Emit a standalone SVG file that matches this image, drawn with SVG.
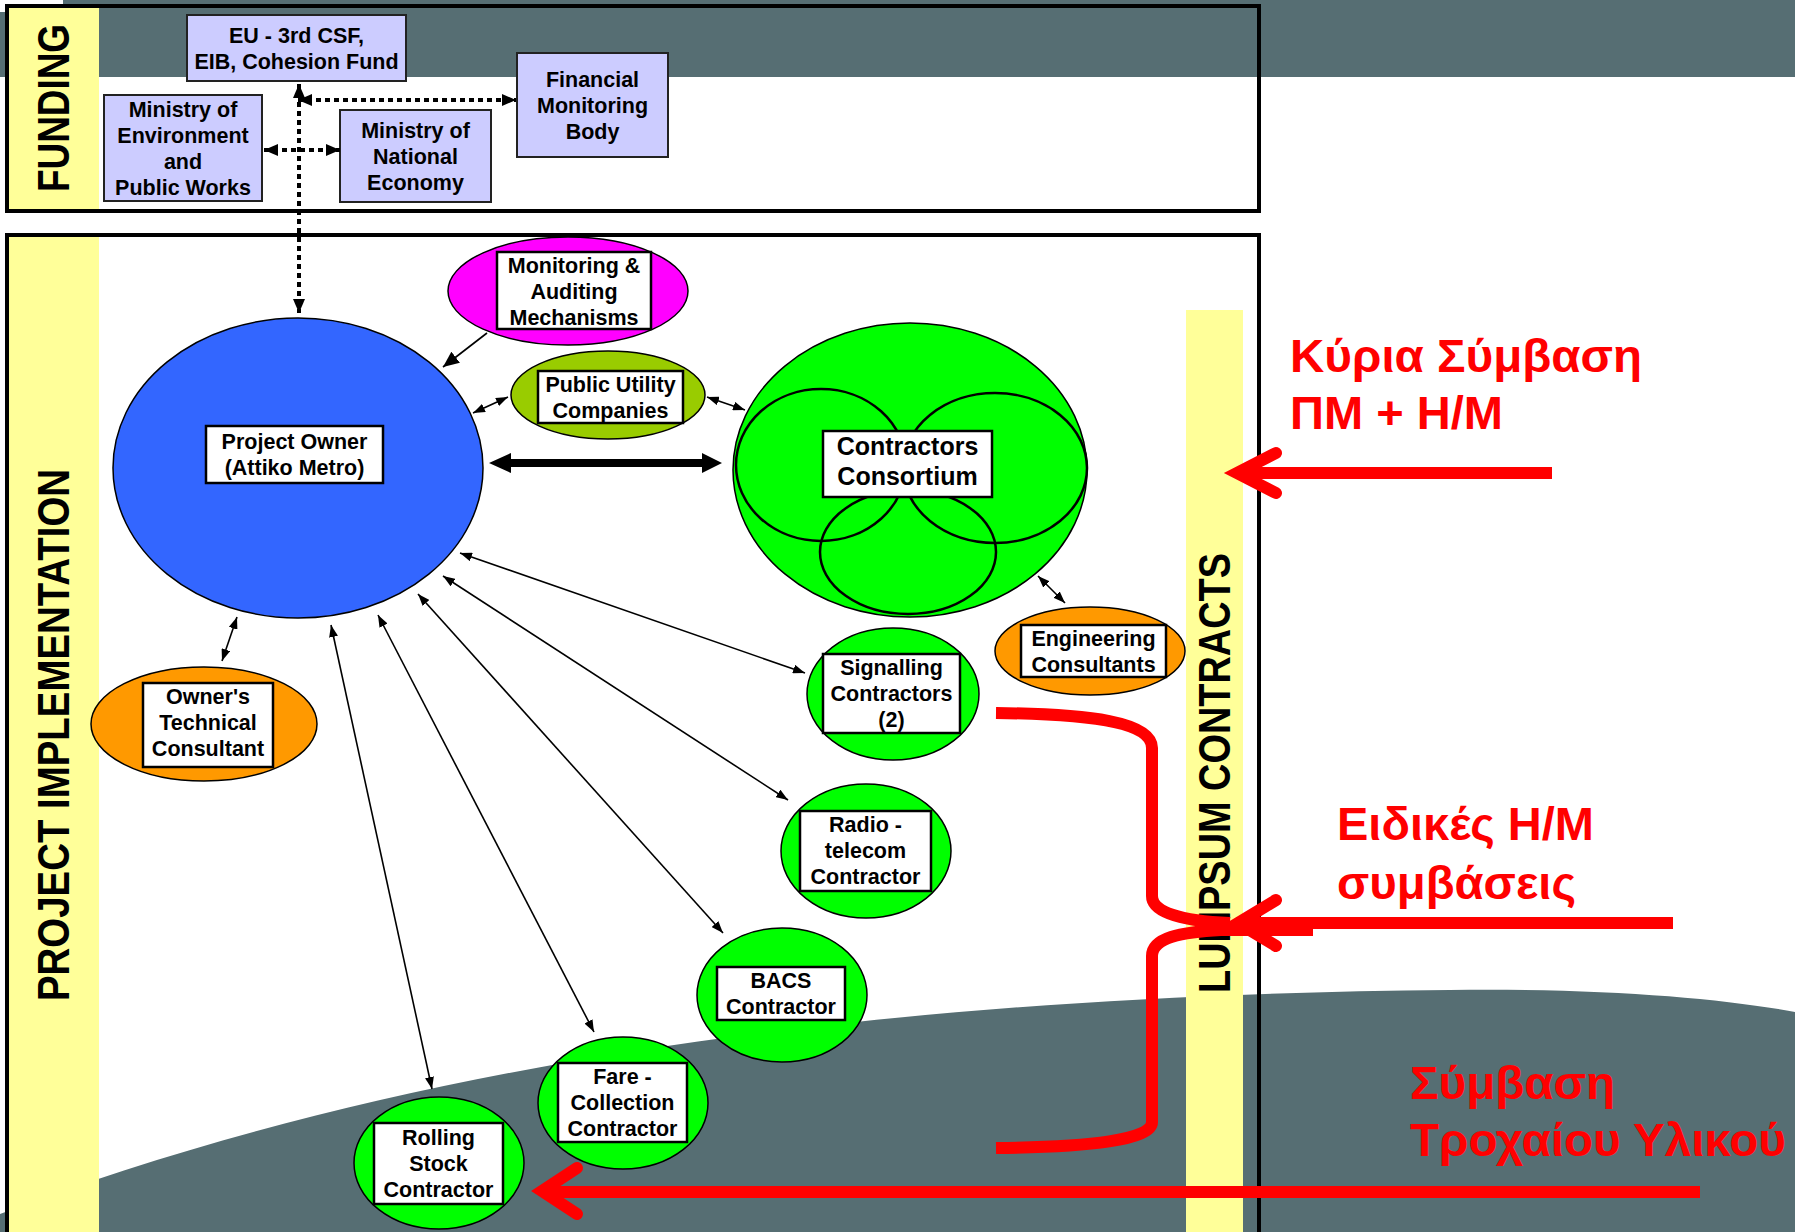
<svg xmlns="http://www.w3.org/2000/svg" width="1795" height="1232" viewBox="0 0 1795 1232">
  <defs>
    <style>
      .lbl { font-family: "Liberation Sans", Arial, sans-serif; font-weight: bold; font-size: 21.5px; text-anchor: middle; fill: #000; }
      .lbl-lg { font-size: 25px; }
      .box { fill: #fff; stroke: #000; stroke-width: 2.5; }
      .fund { fill: #ccccff; stroke: #222; stroke-width: 2; }
      .oval { stroke: #000; stroke-width: 1.5; }
      .ring { fill: none; stroke: #000; stroke-width: 2.5; }
      .frame { fill: none; stroke: #000; stroke-width: 4; }
      .strip { fill: #ffff99; }
      .band { font-family: "Liberation Sans", Arial, sans-serif; font-weight: bold; font-size: 44px; text-anchor: middle; fill: #000; }
      .conn { stroke: #000; stroke-width: 1.6; fill: none; }
      .dot { stroke: #000; stroke-width: 4; stroke-dasharray: 5 4; fill: none; }
      .red { stroke: #ff0000; stroke-width: 12; fill: none; }
      .redhead { stroke: #ff0000; stroke-width: 12; fill: none; stroke-linecap: round; stroke-linejoin: miter; stroke-miterlimit: 10; }
      .redtxt { font-family: "Liberation Sans", Arial, sans-serif; font-weight: bold; font-size: 46px; fill: #ff0000; }
    </style>
    <marker id="ah" viewBox="0 0 12 9" refX="12" refY="4.5" markerWidth="12" markerHeight="9" markerUnits="userSpaceOnUse" orient="auto-start-reverse">
      <path d="M0,0 L12,4.5 L0,9 z" fill="#000"/>
    </marker>
    <marker id="dh" viewBox="0 0 14 12" refX="14" refY="6" markerWidth="14" markerHeight="12" markerUnits="userSpaceOnUse" orient="auto-start-reverse">
      <path d="M0,0 L14,6 L0,12 z" fill="#000"/>
    </marker>
    <marker id="th" viewBox="0 0 16 14" refX="16" refY="7" markerWidth="16" markerHeight="14" markerUnits="userSpaceOnUse" orient="auto">
      <path d="M0,0 L16,7 L0,14 z" fill="#000"/>
    </marker>
  </defs>

  <!-- background -->
  <rect x="0" y="0" width="1795" height="1232" fill="#fff"/>
  <rect x="0" y="0" width="1795" height="77" fill="#566e73"/>
  <rect x="0" y="0" width="63" height="12" fill="#fff"/>
  <path d="M0 1214 C 380 1070, 850 995, 1450 990 C 1600 988, 1720 998, 1795 1012 L 1795 1232 L 0 1232 Z" fill="#566e73"/>

  <!-- funding band -->
  <g id="funding-band">
    <rect class="strip" x="8" y="7" width="91" height="203"/>
    <rect class="frame" x="7" y="6" width="1252" height="205"/>
    <text class="band" transform="translate(69,108) rotate(-90)" textLength="168" lengthAdjust="spacingAndGlyphs">FUNDING</text>
  </g>

  <!-- project implementation band -->
  <g id="implementation-band">
    <rect class="strip" x="8" y="236" width="91" height="1000"/>
    <path class="frame" d="M7 1240 L7 235 L1259 235 L1259 1240"/>
    <text class="band" transform="translate(69,735) rotate(-90)" textLength="532" lengthAdjust="spacingAndGlyphs">PROJECT IMPLEMENTATION</text>
  </g>

  <!-- lump-sum strip -->
  <g id="lumpsum-band">
    <rect class="strip" x="1186" y="310" width="57" height="930"/>
    <text class="band" transform="translate(1230,773) rotate(-90)" textLength="440" lengthAdjust="spacingAndGlyphs">LUMPSUM CONTRACTS</text>
  </g>

  <!-- funding nodes -->
  <g id="eu-funds">
    <rect class="fund" x="187" y="15" width="219" height="66"/>
    <text class="lbl" x="296.5" y="43">EU - 3rd CSF,</text>
    <text class="lbl" x="296.5" y="69">EIB, Cohesion Fund</text>
  </g>
  <g id="ministry-environment">
    <rect class="fund" x="104" y="95" width="158" height="106"/>
    <text class="lbl" x="183" y="117">Ministry of</text>
    <text class="lbl" x="183" y="143">Environment</text>
    <text class="lbl" x="183" y="169">and</text>
    <text class="lbl" x="183" y="195">Public Works</text>
  </g>
  <g id="ministry-economy">
    <rect class="fund" x="340" y="110" width="151" height="92"/>
    <text class="lbl" x="415.5" y="138">Ministry of</text>
    <text class="lbl" x="415.5" y="164">National</text>
    <text class="lbl" x="415.5" y="190">Economy</text>
  </g>
  <g id="financial-monitoring">
    <rect class="fund" x="517" y="53" width="151" height="104"/>
    <text class="lbl" x="592.5" y="87">Financial</text>
    <text class="lbl" x="592.5" y="113">Monitoring</text>
    <text class="lbl" x="592.5" y="139">Body</text>
  </g>

  <!-- implementation nodes -->
  <g id="project-owner">
    <ellipse class="oval" cx="298" cy="468" rx="185" ry="150" fill="#3366ff"/>
    <rect class="box" x="206" y="426" width="177" height="57"/>
    <text class="lbl" x="294.5" y="449">Project Owner</text>
    <text class="lbl" x="294.5" y="475">(Attiko Metro)</text>
  </g>
  <g id="monitoring-auditing">
    <ellipse class="oval" cx="568" cy="291" rx="120" ry="54" fill="#ff00ff"/>
    <rect class="box" x="497" y="252" width="154" height="77"/>
    <text class="lbl" x="574" y="273">Monitoring &amp;</text>
    <text class="lbl" x="574" y="299">Auditing</text>
    <text class="lbl" x="574" y="325">Mechanisms</text>
  </g>
  <g id="public-utility">
    <ellipse class="oval" cx="608" cy="395" rx="97" ry="44" fill="#99cc00"/>
    <rect class="box" x="538" y="371" width="145" height="52"/>
    <text class="lbl" x="610.5" y="392">Public Utility</text>
    <text class="lbl" x="610.5" y="418">Companies</text>
  </g>
  <g id="contractors-consortium">
    <ellipse class="oval" cx="910" cy="470" rx="177" ry="147" fill="#00ff00"/>
    <ellipse class="ring" cx="821" cy="465" rx="85" ry="76"/>
    <ellipse class="ring" cx="995" cy="468" rx="92" ry="75"/>
    <ellipse class="ring" cx="908" cy="552" rx="88" ry="62"/>
    <rect class="box" x="823" y="431" width="169" height="66"/>
    <text class="lbl lbl-lg" x="907.5" y="455">Contractors</text>
    <text class="lbl lbl-lg" x="907.5" y="485">Consortium</text>
  </g>
  <g id="engineering-consultants">
    <ellipse class="oval" cx="1090" cy="651" rx="95" ry="44" fill="#ff9900"/>
    <rect class="box" x="1021" y="625" width="145" height="52"/>
    <text class="lbl" x="1093.5" y="646">Engineering</text>
    <text class="lbl" x="1093.5" y="672">Consultants</text>
  </g>
  <g id="owners-consultant">
    <ellipse class="oval" cx="204" cy="724" rx="113" ry="57" fill="#ff9900"/>
    <rect class="box" x="143" y="683" width="130" height="84"/>
    <text class="lbl" x="208" y="704">Owner's</text>
    <text class="lbl" x="208" y="730">Technical</text>
    <text class="lbl" x="208" y="756">Consultant</text>
  </g>
  <g id="signalling">
    <ellipse class="oval" cx="893" cy="694" rx="86" ry="66" fill="#00ff00"/>
    <rect class="box" x="823" y="654" width="137" height="79"/>
    <text class="lbl" x="891.5" y="675">Signalling</text>
    <text class="lbl" x="891.5" y="701">Contractors</text>
    <text class="lbl" x="891.5" y="727">(2)</text>
  </g>
  <g id="radio-telecom">
    <ellipse class="oval" cx="866" cy="851" rx="85" ry="67" fill="#00ff00"/>
    <rect class="box" x="800" y="811" width="131" height="80"/>
    <text class="lbl" x="865.5" y="832">Radio -</text>
    <text class="lbl" x="865.5" y="858">telecom</text>
    <text class="lbl" x="865.5" y="884">Contractor</text>
  </g>
  <g id="bacs">
    <ellipse class="oval" cx="782" cy="995" rx="85" ry="67" fill="#00ff00"/>
    <rect class="box" x="717" y="967" width="128" height="53"/>
    <text class="lbl" x="781" y="988">BACS</text>
    <text class="lbl" x="781" y="1014">Contractor</text>
  </g>
  <g id="fare-collection">
    <ellipse class="oval" cx="623" cy="1103" rx="85" ry="66" fill="#00ff00"/>
    <rect class="box" x="558" y="1063" width="129" height="79"/>
    <text class="lbl" x="622.5" y="1084">Fare -</text>
    <text class="lbl" x="622.5" y="1110">Collection</text>
    <text class="lbl" x="622.5" y="1136">Contractor</text>
  </g>
  <g id="rolling-stock">
    <ellipse class="oval" cx="439" cy="1163" rx="85" ry="66" fill="#00ff00"/>
    <rect class="box" x="374" y="1123" width="129" height="81"/>
    <text class="lbl" x="438.5" y="1145">Rolling</text>
    <text class="lbl" x="438.5" y="1171">Stock</text>
    <text class="lbl" x="438.5" y="1197">Contractor</text>
  </g>

  <!-- connectors -->
  <g id="connectors">
    <line class="dot" x1="299" y1="84" x2="299" y2="313" marker-start="url(#dh)" marker-end="url(#dh)"/>
    <line class="dot" x1="298" y1="100" x2="516" y2="100" marker-start="url(#dh)" marker-end="url(#dh)"/>
    <line class="dot" x1="264" y1="150" x2="340" y2="150" marker-start="url(#dh)" marker-end="url(#dh)"/>
    <line class="conn" stroke-width="3.5" x1="487" y1="333" x2="443" y2="367" marker-end="url(#th)"/>
    <path d="M489 463 L511 453 L511 459 L702 459 L702 453 L722 463 L702 473 L702 467 L511 467 L511 473 Z" fill="#000"/>
    <line class="conn" x1="473" y1="413" x2="508" y2="397" marker-start="url(#ah)" marker-end="url(#ah)"/>
    <line class="conn" x1="707" y1="397" x2="745" y2="410" marker-start="url(#ah)" marker-end="url(#ah)"/>
    <line class="conn" x1="1038" y1="576" x2="1065" y2="603" marker-start="url(#ah)" marker-end="url(#ah)"/>
    <line class="conn" x1="237" y1="617" x2="222" y2="661" marker-start="url(#ah)" marker-end="url(#ah)"/>
    <line class="conn" x1="460" y1="553" x2="805" y2="673" marker-start="url(#ah)" marker-end="url(#ah)"/>
    <line class="conn" x1="443" y1="576" x2="788" y2="800" marker-start="url(#ah)" marker-end="url(#ah)"/>
    <line class="conn" x1="418" y1="594" x2="723" y2="933" marker-start="url(#ah)" marker-end="url(#ah)"/>
    <line class="conn" x1="378" y1="615" x2="594" y2="1032" marker-start="url(#ah)" marker-end="url(#ah)"/>
    <line class="conn" x1="331" y1="625" x2="432" y2="1089" marker-start="url(#ah)" marker-end="url(#ah)"/>
  </g>

  <!-- contract-type pointers -->
  <g id="contract-pointers">
    <line class="red" x1="1240" y1="473" x2="1552" y2="473"/>
    <polyline class="redhead" points="1276,453 1237,473 1276,493"/>
    <line class="red" x1="1240" y1="923" x2="1673" y2="923"/>
    <polyline class="redhead" points="1276,900 1238,923 1276,946"/>
    <path class="red" d="M996 713 C 1090 714, 1152 722, 1152 748 L 1152 896 C 1152 912, 1180 921, 1230 923"/>
    <path class="red" d="M1313 930 L 1221 930 C 1180 932, 1152 938, 1152 956 L 1152 1122 C 1152 1140, 1090 1147, 996 1148"/>
    <line class="red" x1="544" y1="1192" x2="1700" y2="1192"/>
    <polyline class="redhead" points="577,1168 542,1191 577,1214"/>
  </g>

  <g id="contract-labels">
    <text class="redtxt" x="1290" y="372" textLength="352" lengthAdjust="spacingAndGlyphs">Κύρια Σύμβαση</text>
    <text class="redtxt" x="1290" y="429" textLength="213" lengthAdjust="spacingAndGlyphs">ΠΜ + Η/Μ</text>
    <text class="redtxt" x="1337" y="840" textLength="257" lengthAdjust="spacingAndGlyphs">Ειδικές Η/Μ</text>
    <text class="redtxt" x="1337" y="899" textLength="239" lengthAdjust="spacingAndGlyphs">συμβάσεις</text>
    <text class="redtxt" x="1410" y="1099" textLength="205" lengthAdjust="spacingAndGlyphs">Σύμβαση</text>
    <text class="redtxt" x="1410" y="1156" textLength="376" lengthAdjust="spacingAndGlyphs">Τροχαίου Υλικού</text>
  </g>
</svg>
